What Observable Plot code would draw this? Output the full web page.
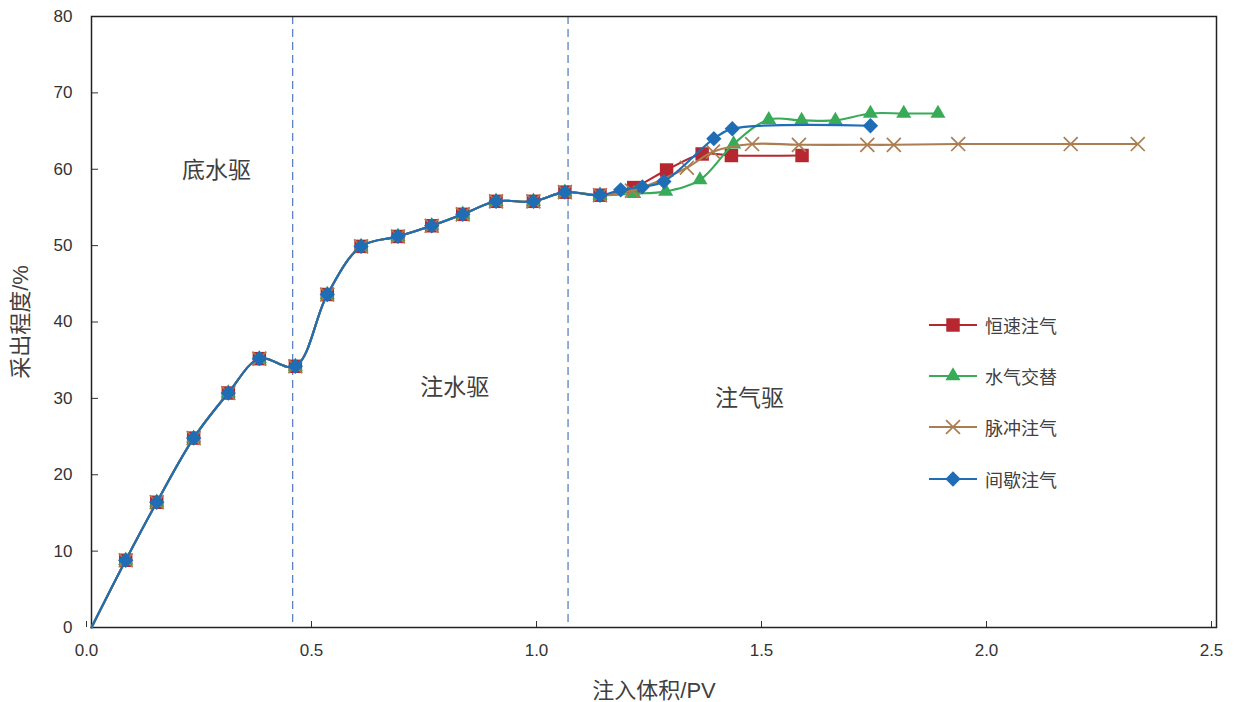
<!DOCTYPE html>
<html><head><meta charset="utf-8">
<script src="https://cdn.jsdelivr.net/npm/d3@7"></script>
<script src="https://cdn.jsdelivr.net/npm/@observablehq/plot@0.6"></script>
<style>
body{margin:0;background:#fff;}
#wrap{position:relative;width:1235px;height:702px;overflow:hidden;}
#legend{position:absolute;left:928px;top:299px;font-family:"Noto Sans CJK SC",sans-serif;font-size:18px;color:#404040;}
.item{display:flex;align-items:center;height:51.3px;}
.item svg{display:block;margin-right:7px;}
</style></head><body>
<div id="wrap"><div id="chart"></div><div id="legend"></div></div>
<script>
// shared water-drive points (all four cases coincide)
const commonX = [0, 0.076, 0.145, 0.227, 0.304, 0.373, 0.453, 0.524, 0.599, 0.681, 0.756, 0.825, 0.899, 0.982, 1.052, 1.130];
const commonY = [0, 8.8, 16.4, 24.8, 30.7, 35.2, 34.2, 43.6, 49.9, 51.2, 52.6, 54.1, 55.8, 55.8, 57.0, 56.6];
// gas-injection stage per case
const constGasX = [1.205, 1.278, 1.357, 1.422, 1.579];
const constGasY = [57.6, 59.9, 62.0, 61.8, 61.8];
const wagGasX = [1.205, 1.276, 1.352, 1.427, 1.505, 1.578, 1.653, 1.731, 1.805, 1.881];
const wagGasY = [56.8, 57.1, 58.6, 63.3, 66.5, 66.4, 66.4, 67.3, 67.3, 67.3];
const pulseGasX = [1.201, 1.323, 1.381, 1.468, 1.572, 1.724, 1.783, 1.926, 2.176, 2.325];
const pulseGasY = [57.2, 60.2, 62.3, 63.3, 63.2, 63.2, 63.2, 63.3, 63.3, 63.3];
const intermGasX = [1.176, 1.224, 1.272, 1.383, 1.424, 1.731];
const intermGasY = [57.3, 57.7, 58.4, 64.0, 65.3, 65.7];

const seriesNames = ["恒速注气", "水气交替", "脉冲注气", "间歇注气"];
const seriesColors = ["#B6272F", "#37AB57", "#AB7D50", "#1F6EB5"];
const seriesSymbols = ["square", "triangle", "times", "diamond2"];
const seriesR = [7.6, 5.6, 6.4, 6.9];
const gasXs = [constGasX, wagGasX, pulseGasX, intermGasX];
const gasYs = [constGasY, wagGasY, pulseGasY, intermGasY];

const xTicks = [0, 0.5, 1.0, 1.5, 2.0, 2.5];
const yTicks = [0, 10, 20, 30, 40, 50, 60, 70, 80];
const stageBounds = [0.447, 1.059];
const stageNames = ["底水驱", "注水驱", "注气驱"];
const stageX = [0.278, 0.807, 1.462];
const stageY = [59.8, 31.4, 30.0];
const xTitle = "注入体积/PV";
const yTitle = "采出程度/%";

const latin = '"Liberation Sans","Noto Sans CJK SC",sans-serif';
const cjk = '"Noto Sans CJK SC",sans-serif';

const seriesRows = seriesNames.map((name, i) => {
  const xs = commonX.concat(gasXs[i]);
  const ys = commonY.concat(gasYs[i]);
  return xs.map((x, j) => ({x, y: ys[j], name}));
});

const seriesMarks = [];
seriesRows.forEach((rows, i) => {
  const c = seriesColors[i];
  seriesMarks.push(Plot.line(rows, {x: "x", y: "y", stroke: c, strokeWidth: 2.1, curve: "catmull-rom"}));
  const isStroke = seriesSymbols[i] === "times";
  seriesMarks.push(Plot.dot(rows.slice(1), {
    x: "x", y: "y", symbol: seriesSymbols[i], r: seriesR[i],
    fill: isStroke ? "none" : c, stroke: isStroke ? c : "none", strokeWidth: isStroke ? 1.7 : 0
  }));
});

const chart = Plot.plot({
  width: 1235, height: 702,
  marginLeft: 91, marginRight: 19, marginTop: 16, marginBottom: 75,
  style: {fontFamily: latin, fontSize: "17px", color: "#333", background: "#fff"},
  x: {domain: [0, 2.5]},
  y: {domain: [0, 80]},
  marks: [
    Plot.ruleX(stageBounds, {stroke: "#5B82C2", strokeWidth: 1.3, strokeDasharray: "8,5"}),
    Plot.axisX({ticks: xTicks, tickFormat: d3.format(".1f"), tickSize: -6, tickPadding: 22, dx: -5, label: null, stroke: "#333", fill: "#333", fontSize: 17}),
    Plot.axisY({ticks: yTicks, tickSize: -7, tickPadding: 26, label: null, stroke: "#333", fill: "#333", fontSize: 17}),
    Plot.frame({stroke: "#222", strokeWidth: 1.5}),
    ...seriesMarks,
    Plot.text(stageNames, {x: (d, i) => stageX[i], y: (d, i) => stageY[i], text: d => d, fontFamily: cjk, fontSize: 23, fill: "#404040"}),
    Plot.text([yTitle], {frameAnchor: "left", dx: -71, rotate: -90, textAnchor: "middle", lineAnchor: "middle", text: d => d, fontFamily: latin, fontSize: 22, fill: "#404040"}),
    Plot.text([xTitle], {frameAnchor: "bottom", dy: 63, textAnchor: "middle", lineAnchor: "middle", text: d => d, fontFamily: latin, fontSize: 22, fill: "#404040"})
  ]
});
document.getElementById("chart").appendChild(chart);

// legend
const legend = d3.select("#legend");
const d3Sym = {square: d3.symbolSquare, triangle: d3.symbolTriangle, times: d3.symbolTimes, diamond2: d3.symbolDiamond2};
seriesNames.forEach((name, i) => {
  const item = legend.append("div").attr("class", "item");
  const svg = item.append("svg").attr("width", 50).attr("height", 20);
  svg.append("line").attr("x1", 1).attr("x2", 49).attr("y1", 10).attr("y2", 10)
    .attr("stroke", seriesColors[i]).attr("stroke-width", 2.1);
  const isStroke = seriesSymbols[i] === "times";
  svg.append("path").attr("transform", "translate(25,10)")
    .attr("d", d3.symbol(d3Sym[seriesSymbols[i]], Math.PI * seriesR[i] * seriesR[i])())
    .attr("fill", isStroke ? "none" : seriesColors[i])
    .attr("stroke", isStroke ? seriesColors[i] : "none").attr("stroke-width", 1.7);
  item.append("span").text(name);
});
</script>
</body></html>
